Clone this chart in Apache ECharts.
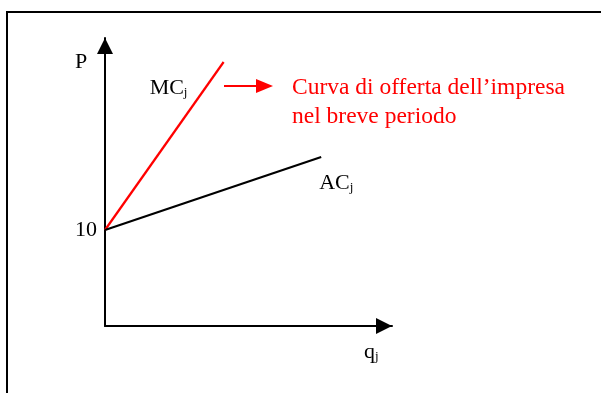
<!DOCTYPE html>
<html>
<head>
<meta charset="utf-8">
<script src="https://cdn.jsdelivr.net/npm/echarts@6/dist/echarts.min.js"></script>
<style>
  html, body { margin: 0; padding: 0; background: #fff; }
  #chart { width: 601px; height: 393px; }
</style>
</head>
<body>
<div id="chart"></div>
<script>
// Short-run supply curve of firm j: marginal and average cost both start at P = 10
const priceIntercept = 10;
const mcLine = [[0, priceIntercept], [12.4, 27.5]];   // MCj
const acLine = [[0, priceIntercept], [22.6, 17.6]];   // ACj
const yTickLabels = [10];
const supplyNote = ['Curva di offerta dell\u2019impresa', 'nel breve periodo'];

const serif = '"Liberation Serif", "DejaVu Serif", serif';
const FS = 22;

const subRich = {
  n: { fontFamily: serif, fontSize: FS, color: '#000' },
  s: { fontFamily: serif, fontSize: 13, color: '#000', padding: [9, 0, 0, 0] }
};

const chart = echarts.init(document.getElementById('chart'));

chart.setOption({
  animation: false,
  backgroundColor: '#fff',
  grid: { left: 105, top: 38, width: 287, height: 288 },
  xAxis: {
    type: 'value', min: 0, max: 30,
    splitLine: { show: false },
    axisTick: { show: false },
    axisLabel: { show: false },
    axisLine: {
      lineStyle: { color: '#000', width: 2 },
      symbol: ['none', 'triangle'], symbolSize: [16, 16], symbolOffset: [0, -8]
    }
  },
  yAxis: {
    type: 'value', min: 0, max: 30,
    splitLine: { show: false },
    axisTick: { show: false },
    axisLine: {
      lineStyle: { color: '#000', width: 2 },
      symbol: ['none', 'triangle'], symbolSize: [16, 16], symbolOffset: [0, -8]
    },
    axisLabel: {
      customValues: yTickLabels,
      fontFamily: serif, fontSize: FS, color: '#000', margin: 8
    }
  },
  series: [
    {
      type: 'line', data: mcLine, symbol: 'none',
      lineStyle: { color: '#ff0000', width: 2.2 },
      endLabel: {
        show: true, formatter: '{n|MC}{s|j}',
        offset: [-82, 26],
        rich: subRich
      }
    },
    {
      type: 'line', data: acLine, symbol: 'none',
      lineStyle: { color: '#000', width: 2.2 },
      endLabel: {
        show: true, formatter: '{n|AC}{s|j}',
        offset: [-10, 26],
        rich: subRich
      }
    }
  ],
  graphic: [
    // outer frame
    { type: 'rect', shape: { x: 7, y: 12, width: 620, height: 420 },
      style: { fill: 'none', stroke: '#000', lineWidth: 2 }, silent: true },
    // axis titles
    { type: 'text', left: 75, top: 51,
      style: { text: 'P', font: FS + 'px ' + serif, fill: '#000' } },
    { type: 'text', left: 364, top: 341,
      style: { text: '{n|q}{s|j}', rich: subRich } },
    // pointer from MC to the note
    { type: 'line', shape: { x1: 224, y1: 86, x2: 258, y2: 86 },
      style: { stroke: '#ff0000', lineWidth: 2 } },
    { type: 'polygon', shape: { points: [[256, 79], [273, 86], [256, 93]] },
      style: { fill: '#ff0000' } },
    { type: 'text', left: 292, top: 73,
      style: { text: supplyNote.join('\n'), font: '23.5px ' + serif, fill: '#ff0000', lineHeight: 29 } }
  ]
});
</script>
</body>
</html>
